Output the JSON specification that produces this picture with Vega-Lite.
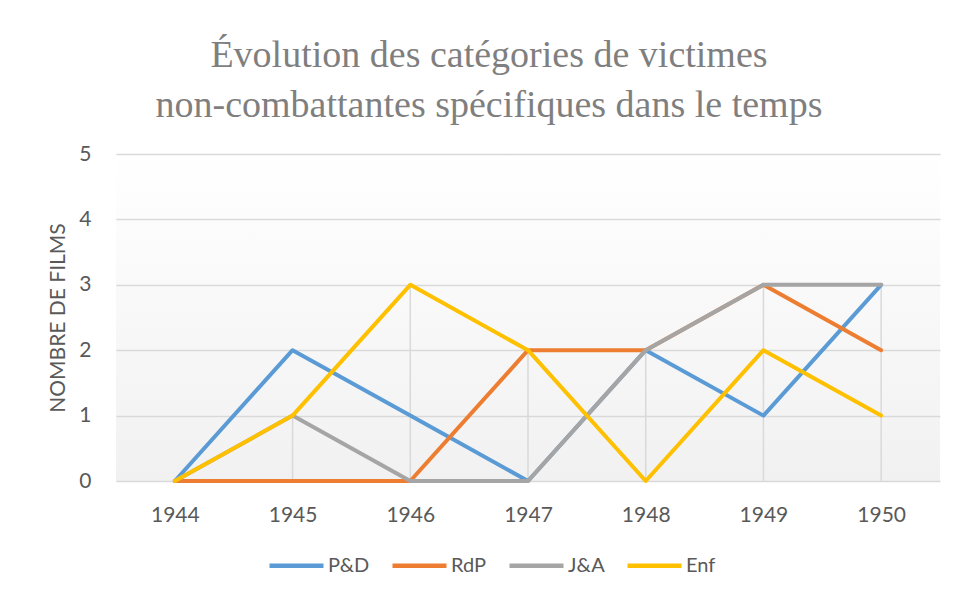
{
  "$schema": "https://vega.github.io/schema/vega-lite/v6.json",
  "width": 824,
  "height": 327,
  "autosize": "none",
  "padding": {"left": 116, "top": 154, "right": 18, "bottom": 118},
  "background": "white",
  "title": {
    "text": ["Évolution des catégories de victimes", "non-combattantes spécifiques dans le temps"],
    "font": "'Liberation Serif', 'Times New Roman', serif",
    "fontSize": 38,
    "fontWeight": "normal",
    "color": "#7f7f7f",
    "lineHeight": 50,
    "anchor": "middle",
    "dx": -39,
    "offset": 18
  },
  "datasets": {
    "series": [
      {"serie": "P&D", "annee": "1944", "valeur": 0},
      {"serie": "P&D", "annee": "1945", "valeur": 2},
      {"serie": "P&D", "annee": "1946", "valeur": 1},
      {"serie": "P&D", "annee": "1947", "valeur": 0},
      {"serie": "P&D", "annee": "1948", "valeur": 2},
      {"serie": "P&D", "annee": "1949", "valeur": 1},
      {"serie": "P&D", "annee": "1950", "valeur": 3},
      {"serie": "RdP", "annee": "1944", "valeur": 0},
      {"serie": "RdP", "annee": "1945", "valeur": 0},
      {"serie": "RdP", "annee": "1946", "valeur": 0},
      {"serie": "RdP", "annee": "1947", "valeur": 2},
      {"serie": "RdP", "annee": "1948", "valeur": 2},
      {"serie": "RdP", "annee": "1949", "valeur": 3},
      {"serie": "RdP", "annee": "1950", "valeur": 2},
      {"serie": "J&A", "annee": "1944", "valeur": 0},
      {"serie": "J&A", "annee": "1945", "valeur": 1},
      {"serie": "J&A", "annee": "1946", "valeur": 0},
      {"serie": "J&A", "annee": "1947", "valeur": 0},
      {"serie": "J&A", "annee": "1948", "valeur": 2},
      {"serie": "J&A", "annee": "1949", "valeur": 3},
      {"serie": "J&A", "annee": "1950", "valeur": 3},
      {"serie": "Enf", "annee": "1944", "valeur": 0},
      {"serie": "Enf", "annee": "1945", "valeur": 1},
      {"serie": "Enf", "annee": "1946", "valeur": 3},
      {"serie": "Enf", "annee": "1947", "valeur": 2},
      {"serie": "Enf", "annee": "1948", "valeur": 0},
      {"serie": "Enf", "annee": "1949", "valeur": 2},
      {"serie": "Enf", "annee": "1950", "valeur": 1}
    ],
    "chutes": [
      {"annee": "1944", "valeur": 0},
      {"annee": "1945", "valeur": 1},
      {"annee": "1946", "valeur": 3},
      {"annee": "1947", "valeur": 2},
      {"annee": "1948", "valeur": 2},
      {"annee": "1949", "valeur": 3},
      {"annee": "1950", "valeur": 3}
    ]
  },
  "encoding": {
    "x": {
      "field": "annee",
      "type": "ordinal",
      "scale": {"type": "point", "padding": 0.5},
      "axis": {
        "title": null,
        "labelAngle": 0,
        "domain": false,
        "ticks": false,
        "grid": false,
        "labelPadding": 23,
        "labelFont": "Lato",
        "labelFontSize": 21,
        "labelColor": "#595959"
      }
    },
    "y": {
      "field": "valeur",
      "type": "quantitative",
      "scale": {"domain": [0, 5], "nice": false},
      "axis": {
        "title": "NOMBRE DE FILMS",
        "values": [0, 1, 2, 3, 4, 5],
        "domain": false,
        "ticks": false,
        "grid": true,
        "gridColor": "#d9d9d9",
        "gridWidth": 1.5,
        "labelPadding": 25,
        "labelFont": "Lato",
        "labelFontSize": 21,
        "labelColor": "#595959",
        "titleFont": "Lato",
        "titleFontSize": 21,
        "titleFontWeight": "normal",
        "titleColor": "#595959",
        "titlePadding": 10
      }
    }
  },
  "layer": [
    {
      "data": {"name": "chutes"},
      "mark": {"type": "rule", "color": "#d9d9d9", "strokeWidth": 1.5},
      "encoding": {
        "y2": {"datum": 0}
      }
    },
    {
      "data": {"name": "series"},
      "mark": {"type": "line", "strokeWidth": 4, "strokeCap": "round", "strokeJoin": "round"},
      "encoding": {
        "color": {
          "field": "serie",
          "type": "nominal",
          "sort": ["P&D", "RdP", "J&A", "Enf"],
          "scale": {
            "domain": ["P&D", "RdP", "J&A", "Enf"],
            "range": ["#5B9BD5", "#ED7D31", "#A5A5A5", "#FFC000"]
          },
          "legend": {
            "title": null,
            "orient": "none",
            "direction": "horizontal",
            "legendX": 151,
            "legendY": 382,
            "symbolType": "M-1,0H1",
            "symbolSize": 2916,
            "symbolStrokeWidth": 4.5,
            "labelFont": "Lato",
            "labelFontSize": 20,
            "labelColor": "#595959",
            "labelOffset": 2,
            "columnPadding": 13
          }
        }
      }
    }
  ],
  "config": {
    "view": {
      "stroke": null,
      "fill": {
        "gradient": "linear",
        "x1": 0, "y1": 0, "x2": 0, "y2": 1,
        "stops": [
          {"offset": 0, "color": "#ffffff"},
          {"offset": 1, "color": "#f1f1f1"}
        ]
      }
    }
  }
}
